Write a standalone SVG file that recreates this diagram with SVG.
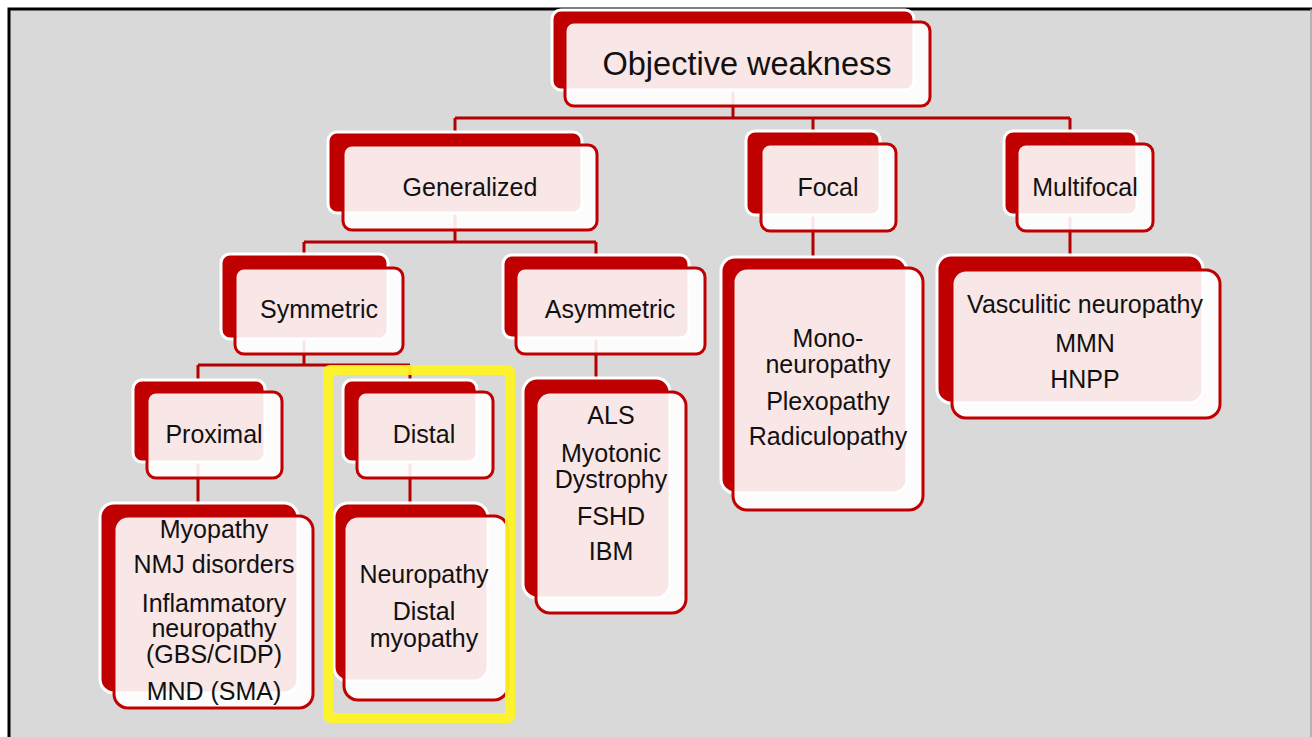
<svg xmlns="http://www.w3.org/2000/svg" width="1312" height="737" viewBox="0 0 1312 737">
<style>
.bk{fill:#C00000;stroke:#FFFFFF;stroke-width:3}
.fr{fill:#FFFFFF;fill-opacity:0.9;stroke:#C00000;stroke-width:3}
.t{font-family:"Liberation Sans",Arial,sans-serif;font-size:25px;fill:#111111;text-anchor:middle}
.c{stroke:#B30000;stroke-width:3;fill:none}
</style>
<rect x="0" y="0" width="1312" height="737" fill="#FFFFFF"/>
<rect x="9" y="9" width="1303" height="740" fill="#D9D9D9"/>
<path d="M9 737 V9 H1312" stroke="#000000" stroke-width="3" fill="none"/>
<line x1="1311" y1="9" x2="1311" y2="737" stroke="#A6A6A6" stroke-width="1.5"/>
<g id="connectors">
<path class="c" d="M733 90 V118 M455 118 H1070 M455 118 V132 M813 118 V131 M1070 118 V131"/>
<path class="c" d="M455 213 V242 M304 242 H596 M304 242 V254 M596 242 V255"/>
<path class="c" d="M813 215 V257 M1070 215 V255"/>
<path class="c" d="M304 338 V365 M198 365 H410 M198 365 V380 M410 365 V380"/>
<path class="c" d="M596 338 V378"/>
<path class="c" d="M198 462 V503 M410 462 V503"/>
</g>
<g id="objective">
<rect class="bk" x="552" y="10" width="362" height="80" rx="9"/>
<rect class="fr" x="565" y="22" width="365" height="84" rx="9"/>
<text class="t" x="747" y="75" style="font-size:32.5px">Objective weakness</text>
</g>
<g id="generalized">
<rect class="bk" x="328" y="132" width="254" height="81" rx="9"/>
<rect class="fr" x="343" y="145" width="254" height="85" rx="9"/>
<text class="t" x="470" y="196">Generalized</text>
</g>
<g id="focal">
<rect class="bk" x="746" y="131" width="134" height="84" rx="9"/>
<rect class="fr" x="761" y="144" width="135" height="87" rx="9"/>
<text class="t" x="828" y="196">Focal</text>
</g>
<g id="multifocal">
<rect class="bk" x="1004" y="131" width="133" height="84" rx="9"/>
<rect class="fr" x="1017" y="144" width="136" height="87" rx="9"/>
<text class="t" x="1085" y="196">Multifocal</text>
</g>
<g id="symmetric">
<rect class="bk" x="221" y="254" width="167" height="85" rx="9"/>
<rect class="fr" x="235" y="268" width="168" height="86" rx="9"/>
<text class="t" x="319" y="318">Symmetric</text>
</g>
<g id="asymmetric">
<rect class="bk" x="503" y="255" width="186" height="83" rx="9"/>
<rect class="fr" x="516" y="268" width="189" height="86" rx="9"/>
<text class="t" x="610" y="318">Asymmetric</text>
</g>
<g id="proximal">
<rect class="bk" x="133" y="380" width="132" height="82" rx="9"/>
<rect class="fr" x="147" y="392" width="135" height="86" rx="9"/>
<text class="t" x="214" y="443">Proximal</text>
</g>
<g id="distal">
<rect class="bk" x="343" y="380" width="134" height="82" rx="9"/>
<rect class="fr" x="357" y="392" width="136" height="86" rx="9"/>
<text class="t" x="424" y="443">Distal</text>
</g>
<g id="proximal-list">
<rect class="bk" x="100" y="503" width="198" height="190" rx="14"/>
<rect class="fr" x="114" y="516" width="199" height="192" rx="14"/>
<text class="t" x="214" y="538">Myopathy</text>
<text class="t" x="214" y="573">NMJ disorders</text>
<text class="t" x="214" y="612">Inflammatory</text>
<text class="t" x="214" y="637">neuropathy</text>
<text class="t" x="214" y="663">(GBS/CIDP)</text>
<text class="t" x="214" y="700">MND (SMA)</text>
</g>
<g id="distal-list">
<rect class="bk" x="334" y="503" width="154" height="178" rx="14"/>
<rect class="fr" x="344" y="516" width="164" height="184" rx="14"/>
<text class="t" x="424" y="583">Neuropathy</text>
<text class="t" x="424" y="620">Distal</text>
<text class="t" x="424" y="647">myopathy</text>
</g>
<g id="asymmetric-list">
<rect class="bk" x="523" y="378" width="147" height="220" rx="14"/>
<rect class="fr" x="536" y="392" width="150" height="221" rx="14"/>
<text class="t" x="611" y="424">ALS</text>
<text class="t" x="611" y="462">Myotonic</text>
<text class="t" x="611" y="488">Dystrophy</text>
<text class="t" x="611" y="525">FSHD</text>
<text class="t" x="611" y="560">IBM</text>
</g>
<g id="focal-list">
<rect class="bk" x="721" y="257" width="186" height="236" rx="14"/>
<rect class="fr" x="733" y="268" width="190" height="242" rx="14"/>
<text class="t" x="828" y="347">Mono-</text>
<text class="t" x="828" y="373">neuropathy</text>
<text class="t" x="828" y="410">Plexopathy</text>
<text class="t" x="828" y="445">Radiculopathy</text>
</g>
<g id="multifocal-list">
<rect class="bk" x="937" y="255" width="266" height="148" rx="14"/>
<rect class="fr" x="952" y="270" width="268" height="148" rx="14"/>
<text class="t" x="1085" y="313">Vasculitic neuropathy</text>
<text class="t" x="1085" y="352">MMN</text>
<text class="t" x="1085" y="388">HNPP</text>
</g>
<g id="highlight">
<rect x="328" y="370" width="182" height="348" fill="none" stroke="#FFF51F" stroke-opacity="0.92" stroke-width="10" rx="2"/>
</g>
</svg>
